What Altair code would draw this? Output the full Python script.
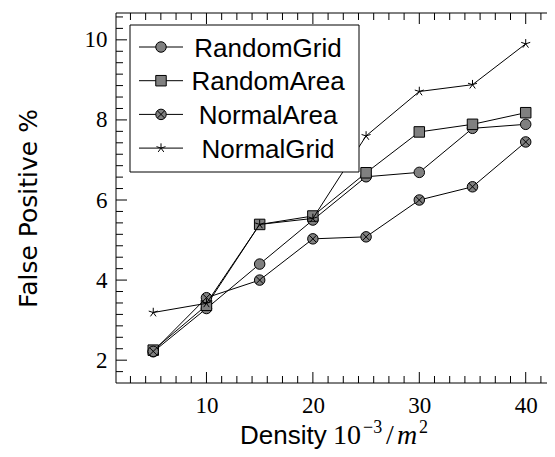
import altair as alt
import pandas as pd

# ---------------- data ----------------
density = [5, 10, 15, 20, 25, 30, 35, 40]
random_grid = [2.21, 3.29, 4.40, 5.50, 6.58, 6.69, 7.79, 7.89]
random_area = [2.25, 3.37, 5.39, 5.60, 6.68, 7.70, 7.89, 8.18]
normal_area = [2.22, 3.56, 4.00, 5.03, 5.08, 6.00, 6.33, 7.45]
normal_grid = [3.19, 3.42, 5.39, 5.54, 7.60, 8.71, 8.88, 9.90]
series_names = ["RandomGrid", "RandomArea", "NormalArea", "NormalGrid"]
series_values = [random_grid, random_area, normal_area, normal_grid]

x_ticks = [10, 20, 30, 40]
y_ticks = [2, 4, 6, 8, 10]
x_minor = [k * 10 / 7 for k in range(2, 30) if k % 7]
y_minor = [k * 2 / 7 for k in range(6, 38) if k % 7]

W, H = 431, 370
PX_PER_X = 10.642
x_domain = [1.5, 1.5 + W / PX_PER_X]
y_domain = [1.43, 10.67]

MAJ, MIN = 11, 7

rows = []
for name, vals in zip(series_names, series_values):
    for d, v in zip(density, vals):
        rows.append({"series": name, "density": d, "value": v})
df = pd.DataFrame(rows)

xs = alt.Scale(domain=x_domain, nice=False, zero=False)
ys = alt.Scale(domain=y_domain, nice=False, zero=False)
AX = alt.Axis(values=x_ticks, title=None, ticks=False, domain=False, grid=False,
              labelFont="Liberation Serif", labelFontSize=23, labelColor="black",
              labelPadding=11, labelFlush=False)
AY = alt.Axis(values=y_ticks, title=None, ticks=False, domain=False, grid=False,
              labelFont="Liberation Serif", labelFontSize=23, labelColor="black",
              labelPadding=9, labelFlush=False)

GRAY = "#808080"
STAR = "M0,0L0,-1M0,0L-0.951,-0.309M0,0L-0.588,0.809M0,0L0.588,0.809M0,0L0.951,-0.309"
CROSS = "M-0.7071,-0.7071L0.7071,0.7071M-0.7071,0.7071L0.7071,-0.7071"
SZ = 110


def marker_marks(name):
    circ = dict(shape="circle", filled=True, fill=GRAY, stroke="black", strokeWidth=1, size=SZ, opacity=1)
    if name == "RandomGrid":
        return [circ]
    if name == "RandomArea":
        return [dict(shape="square", filled=True, fill=GRAY, stroke="black", strokeWidth=1, size=SZ, opacity=1)]
    if name == "NormalArea":
        return [circ, dict(shape=CROSS, filled=False, stroke="black", strokeWidth=1, size=SZ, opacity=1)]
    return [dict(shape=STAR, filled=False, stroke="black", strokeWidth=1, size=90, opacity=1)]


layers = []
X = alt.X("density:Q", scale=xs, axis=AX)
Y = alt.Y("value:Q", scale=ys, axis=AY)
for name in series_names:
    sub = alt.Chart(df).transform_filter(alt.datum.series == name)
    layers.append(sub.mark_line(color="black", strokeWidth=1).encode(x=X, y=Y))
    for m in marker_marks(name):
        layers.append(sub.mark_point(**m).encode(x=X, y=Y))

# ---- inward ticks ----
def xticks(vals, length):
    d = alt.Chart(pd.DataFrame({"density": vals}))
    return [
        d.mark_rule(color="black", strokeWidth=1).encode(x=alt.X("density:Q", scale=xs, axis=AX),
                                                         y=alt.value(H), y2=alt.value(H - length)),
        d.mark_rule(color="black", strokeWidth=1).encode(x=alt.X("density:Q", scale=xs, axis=AX),
                                                         y=alt.value(0), y2=alt.value(length)),
    ]


def yticks(vals, length):
    d = alt.Chart(pd.DataFrame({"value": vals}))
    return [d.mark_rule(color="black", strokeWidth=1).encode(y=alt.Y("value:Q", scale=ys, axis=AY),
                                                             x=alt.value(0), x2=alt.value(length))]


layers += xticks(x_ticks, MAJ) + xticks(x_minor, MIN)
layers += yticks(y_ticks, MAJ) + yticks(y_minor, MIN)

one = alt.Chart(pd.DataFrame({"a": [0]}))
# frame (left, top, bottom)
layers.append(one.mark_rule(color="black", strokeWidth=1).encode(x=alt.value(0), y=alt.value(0), y2=alt.value(H)))
layers.append(one.mark_rule(color="black", strokeWidth=1).encode(x=alt.value(0), x2=alt.value(W), y=alt.value(0)))
layers.append(one.mark_rule(color="black", strokeWidth=1).encode(x=alt.value(0), x2=alt.value(W), y=alt.value(H)))

# ---- legend ----
layers.append(one.mark_rect(fill="white", stroke="black", strokeWidth=1).encode(
    x=alt.value(14), x2=alt.value(243), y=alt.value(12), y2=alt.value(159)))
for i, name in enumerate(series_names):
    yc = 34 + i * 33.7
    ld = alt.Chart(pd.DataFrame({"name": [name]}))
    layers.append(ld.mark_rule(color="black", strokeWidth=1).encode(x=alt.value(23), x2=alt.value(67), y=alt.value(yc)))
    for m in marker_marks(name):
        layers.append(ld.mark_point(**m).encode(x=alt.value(45), y=alt.value(yc)))
    layers.append(ld.mark_text(font="Liberation Sans", fontSize=26, align="center", baseline="alphabetic",
                               color="black").encode(text="name:N", x=alt.value(152), y=alt.value(yc + 9.5)))

# ---- axis titles ----
def txt(s, x, y, font="Liberation Sans", size=26, style="normal", angle=0, align="left"):
    return alt.Chart(pd.DataFrame({"t": [s]})).mark_text(
        font=font, fontSize=size, fontStyle=style, align=align, baseline="alphabetic",
        color="black", angle=angle).encode(text="t:N", x=alt.value(x), y=alt.value(y))

layers.append(txt("False Positive %", -79, 195.5, font="DejaVu Sans", size=25, angle=270, align="center"))
base_y = 431
layers.append(txt("Density", 124, base_y))
layers.append(txt("10", 217, base_y, font="Liberation Serif", size=28))
layers.append(txt("\u22123", 247, base_y - 11, font="Liberation Serif", size=18))
layers.append(txt("/", 270, base_y, font="Liberation Serif", size=28))
layers.append(txt("m", 281, base_y, font="Liberation Serif", size=28, style="italic"))
layers.append(txt("2", 303, base_y - 11, font="Liberation Serif", size=18))

chart = alt.layer(*layers).properties(
    width=W, height=H,
    autosize=alt.AutoSizeParams(type="none"),
    padding={"left": 108, "top": 5, "right": 0, "bottom": 66},
    background="white",
).configure_view(stroke=None)

chart.save("out.html", embed_options={"renderer": "svg", "actions": False})
